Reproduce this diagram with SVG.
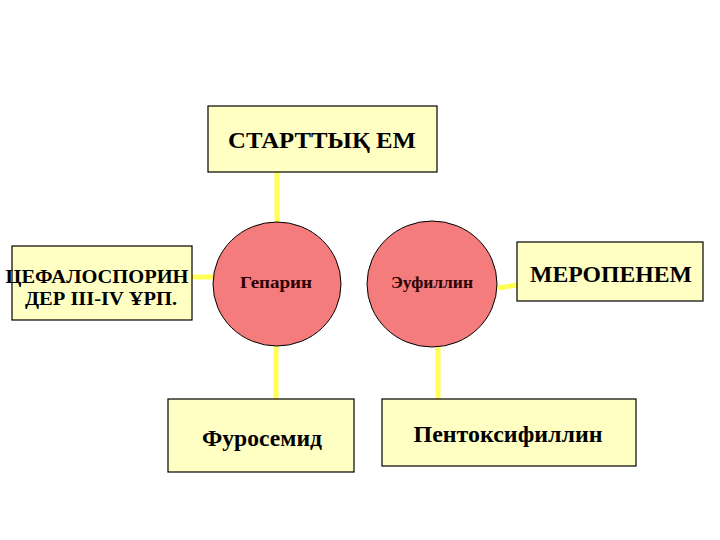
<svg xmlns="http://www.w3.org/2000/svg" width="720" height="540" viewBox="0 0 720 540">
<style>
.box{fill:#FFFFC4;stroke:#000;stroke-width:1.2}
.circ{fill:#F47C7C;stroke:#000;stroke-width:1}
.con{stroke:#FFFF55;stroke-width:5;fill:none}
text{font-family:"Liberation Serif","Times New Roman",serif;font-weight:bold;fill:#000;text-anchor:middle}
.ct{fill:#2a0000;font-size:17px}
</style>
<rect width="720" height="540" fill="#fff"/>
<g id="connectors">
<line class="con" x1="277" y1="172" x2="277" y2="222"/>
<line class="con" x1="192" y1="277" x2="213" y2="277"/>
<line class="con" x1="498" y1="288" x2="517" y2="285"/>
<line class="con" x1="276" y1="345" x2="276" y2="399"/>
<line class="con" x1="438" y1="345" x2="438" y2="399"/>
</g>
<g id="start">
<rect class="box" x="208" y="106" width="229" height="66"/>
<text x="322" y="148" font-size="23" textLength="188" lengthAdjust="spacingAndGlyphs">СТАРТТЫҚ  ЕМ</text>
</g>
<g id="ceph">
<rect class="box" x="12" y="246" width="180" height="74"/>
<text x="97" y="283" font-size="18.5" textLength="183" lengthAdjust="spacingAndGlyphs">ЦЕФАЛОСПОРИН</text>
<text x="101" y="305" font-size="18.5" textLength="152" lengthAdjust="spacingAndGlyphs">ДЕР  III-IV ҰРП.</text>
</g>
<g id="heparin">
<ellipse class="circ" cx="277" cy="284" rx="64" ry="62"/>
<text class="ct" x="276" y="288" textLength="72" lengthAdjust="spacingAndGlyphs">Гепарин</text>
</g>
<g id="euphyllin">
<ellipse class="circ" cx="432" cy="284" rx="65" ry="63"/>
<text class="ct" x="432" y="288" textLength="82" lengthAdjust="spacingAndGlyphs">Эуфиллин</text>
</g>
<g id="meropenem">
<rect class="box" x="517" y="242" width="186" height="59"/>
<text x="611" y="282" font-size="23" textLength="162" lengthAdjust="spacingAndGlyphs">МЕРОПЕНЕМ</text>
</g>
<g id="furosemide">
<rect class="box" x="168" y="399" width="186" height="73"/>
<text x="262" y="446" font-size="23" textLength="120" lengthAdjust="spacingAndGlyphs">Фуросемид</text>
</g>
<g id="pentox">
<rect class="box" x="382" y="399" width="254" height="67"/>
<text x="508" y="442" font-size="23" textLength="189" lengthAdjust="spacingAndGlyphs">Пентоксифиллин</text>
</g>
</svg>
